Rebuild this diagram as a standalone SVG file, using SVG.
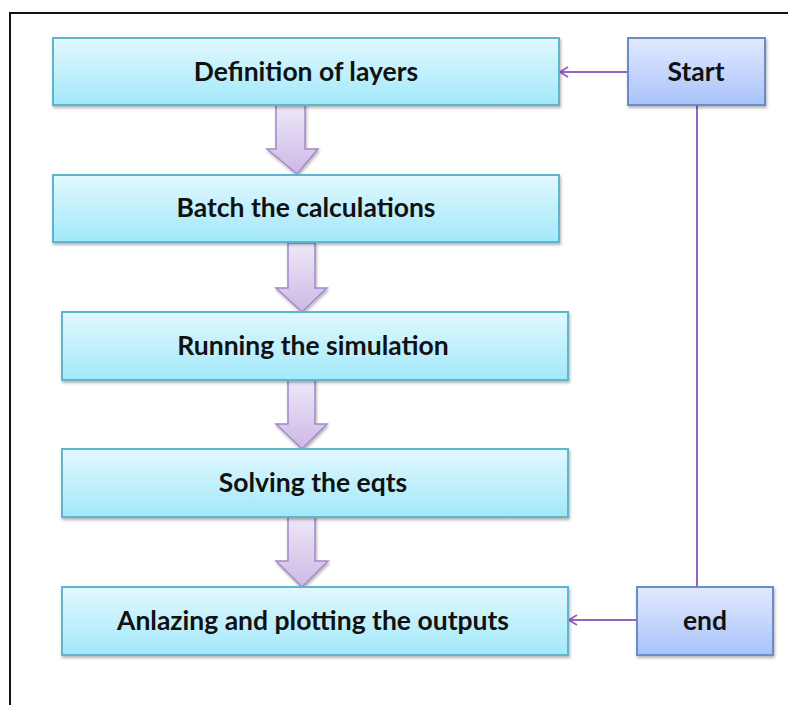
<svg xmlns="http://www.w3.org/2000/svg" width="788" height="705" viewBox="0 0 788 705">
  <defs>
    <linearGradient id="gStep" x1="0" y1="0" x2="0" y2="1">
      <stop offset="0" stop-color="#E2F8FE"/>
      <stop offset="1" stop-color="#A2E8FA"/>
    </linearGradient>
    <linearGradient id="gTerm" x1="0" y1="0" x2="0" y2="1">
      <stop offset="0" stop-color="#E2E9FE"/>
      <stop offset="1" stop-color="#A8C3FA"/>
    </linearGradient>
    <linearGradient id="gArrow" x1="0" y1="0" x2="0" y2="1">
      <stop offset="0" stop-color="#EEE8F8"/>
      <stop offset="1" stop-color="#CDB8E6"/>
    </linearGradient>
    <filter id="shadow" x="-5%" y="-10%" width="110%" height="130%">
      <feDropShadow dx="1" dy="2" stdDeviation="1.5" flood-color="#000" flood-opacity="0.3"/>
    </filter>
    <marker id="open" markerWidth="12" markerHeight="12" refX="10" refY="6" orient="auto" markerUnits="userSpaceOnUse">
      <path d="M2,1 L10,6 L2,11" fill="none" stroke="#9A62C0" stroke-width="2"/>
    </marker>
    <style>
      .step { fill: url(#gStep); stroke: #5FB6CC; stroke-width: 2; filter: url(#shadow); }
      .term { fill: url(#gTerm); stroke: #6A8CC8; stroke-width: 2; filter: url(#shadow); }
      .blk { fill: url(#gArrow); stroke: #A288C6; stroke-width: 1.5; filter: url(#shadow); }
      .lbl { font-family: Lato, "Open Sans", sans-serif; font-weight: bold; font-size: 26.5px; fill: #111; text-anchor: middle; }
      .link { fill: none; stroke: #9A62C0; stroke-width: 2; }
    </style>
  </defs>

  <rect width="788" height="705" fill="#fff"/>
  <!-- page frame -->
  <path d="M10,705 L10,13 L788,13" fill="none" stroke="#111" stroke-width="2"/>

  <g id="connectors">
    <path class="link" d="M628,72 L560,72" marker-end="url(#open)"/>
    <path class="link" d="M697,105 L697,587"/>
    <path class="link" d="M637,620 L569,620" marker-end="url(#open)"/>
    <path class="blk" d="M276,105 L305,105 L305,149 L318,149 L297,174 L267,149 L276,149 Z"/>
    <path class="blk" d="M288,243 L315,243 L315,288 L327,288 L302,312 L276,288 L288,288 Z"/>
    <path class="blk" d="M288,380 L315,380 L315,424 L327,424 L302,449 L276,424 L288,424 Z"/>
    <path class="blk" d="M288,517 L315,517 L315,561 L328,561 L302,587 L276,561 L288,561 Z"/>
  </g>

  <g id="definition">
    <rect class="step" x="53" y="38" width="506" height="67"/>
    <text class="lbl" x="306" y="81">Definition of layers</text>
  </g>
  <g id="batch">
    <rect class="step" x="53" y="175" width="506" height="67"/>
    <text class="lbl" x="306" y="217">Batch the calculations</text>
  </g>
  <g id="running">
    <rect class="step" x="62" y="312" width="506" height="68"/>
    <text class="lbl" x="313" y="355">Running the simulation</text>
  </g>
  <g id="solving">
    <rect class="step" x="62" y="449" width="506" height="68"/>
    <text class="lbl" x="313" y="492">Solving the eqts</text>
  </g>
  <g id="analyzing">
    <rect class="step" x="62" y="587" width="506" height="68"/>
    <text class="lbl" x="313" y="630">Anlazing and plotting the outputs</text>
  </g>
  <g id="start">
    <rect class="term" x="628" y="38" width="137" height="67"/>
    <text class="lbl" x="696" y="81">Start</text>
  </g>
  <g id="end">
    <rect class="term" x="637" y="587" width="136" height="68"/>
    <text class="lbl" x="705" y="630">end</text>
  </g>
</svg>
